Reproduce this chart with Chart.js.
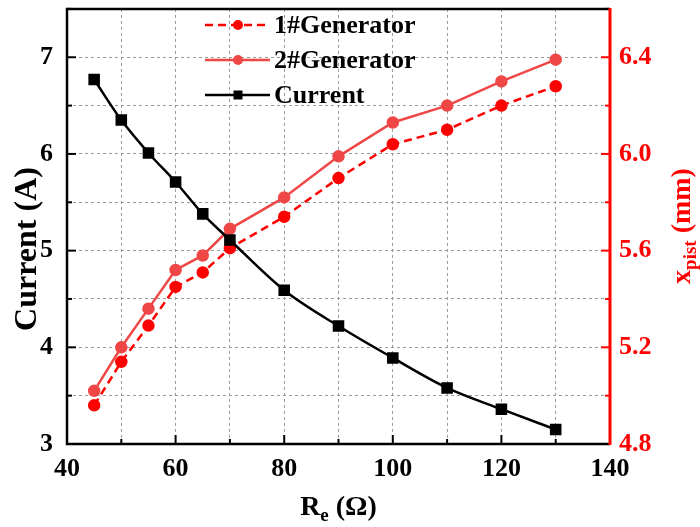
<!DOCTYPE html>
<html>
<head>
<meta charset="utf-8">
<script src="https://cdn.jsdelivr.net/npm/chart.js@4.4.1/dist/chart.umd.min.js"></script>
<style>
  html, body { margin: 0; padding: 0; background: #ffffff; }
  #wrap { width: 700px; height: 527px; }
</style>
</head>
<body>
<div id="wrap"><canvas id="c" width="700" height="527"></canvas></div>
<script>
// ---- data ----
const resistance = [45, 50, 55, 60, 65, 70, 80, 90, 100, 110, 120, 130];
const currentA   = [6.77, 6.35, 6.01, 5.71, 5.38, 5.11, 4.59, 4.22, 3.89, 3.58, 3.36, 3.15];
const gen1Pist   = [4.96, 5.14, 5.29, 5.45, 5.51, 5.61, 5.74, 5.90, 6.04, 6.10, 6.20, 6.28];
const gen2Pist   = [5.02, 5.20, 5.36, 5.52, 5.58, 5.69, 5.82, 5.99, 6.13, 6.20, 6.30, 6.39];
const xTickLabels     = ['40', '60', '80', '100', '120', '140'];
const leftTickLabels  = ['3', '4', '5', '6', '7'];
const rightTickLabels = ['4.8', '5.2', '5.6', '6.0', '6.4'];
const seriesNames = ['1#Generator', '2#Generator', 'Current'];

const RED1 = '#ff0000';
const RED2 = '#ef4646';
const BLACK = '#000000';
const FONT = '"Liberation Serif", "Times New Roman", serif';

function pts(ys) { return resistance.map((x, i) => ({ x: x, y: ys[i] })); }

const fixedWidth = (w) => (scale) => {
  scale.width = w;
  scale.paddingTop = 0; scale.paddingBottom = 0;
};

const framePlugin = {
  id: 'frame',
  afterDraw(chart) {
    const ctx = chart.ctx;
    const a = chart.chartArea;
    const sx = chart.scales.x, sl = chart.scales.yL, sr = chart.scales.yR;
    ctx.save();
    // inward ticks
    ctx.lineWidth = 2;
    ctx.strokeStyle = BLACK;
    sl.ticks.forEach(t => {
      const p = sl.getPixelForValue(t.value);
      const major = leftTickLabels.includes(String(Math.round(t.value * 10) / 10));
      const len = major ? 9 : 5;
      ctx.beginPath(); ctx.moveTo(a.left, p); ctx.lineTo(a.left + len, p); ctx.stroke();
    });
    sx.ticks.forEach(t => {
      const p = sx.getPixelForValue(t.value);
      const major = xTickLabels.includes(String(t.value));
      const len = major ? 9 : 5;
      ctx.beginPath(); ctx.moveTo(p, a.bottom); ctx.lineTo(p, a.bottom - len); ctx.stroke();
    });
    ctx.strokeStyle = RED1;
    sr.ticks.forEach(t => {
      const p = sr.getPixelForValue(t.value);
      const major = rightTickLabels.includes(t.value.toFixed(1));
      const len = major ? 9 : 5;
      ctx.beginPath(); ctx.moveTo(a.right, p); ctx.lineTo(a.right - len, p); ctx.stroke();
    });
    // frame
    ctx.lineWidth = 2.5;
    ctx.strokeStyle = BLACK;
    ctx.beginPath();
    ctx.moveTo(a.right, a.top); ctx.lineTo(a.left, a.top);
    ctx.lineTo(a.left, a.bottom); ctx.lineTo(a.right, a.bottom);
    ctx.stroke();
    ctx.lineWidth = 3;
    ctx.strokeStyle = RED1;
    ctx.beginPath(); ctx.moveTo(a.right, a.top - 1); ctx.lineTo(a.right, a.bottom + 1); ctx.stroke();

    // axis titles
    const big = 'bold 28px ' + FONT;
    const small = 'bold 19px ' + FONT;
    function drawParts(parts, x, y, color) {
      let w = 0;
      parts.forEach(p => { ctx.font = p[1]; w += ctx.measureText(p[0]).width; });
      let cx = x - w / 2;
      ctx.fillStyle = color;
      ctx.textBaseline = 'alphabetic';
      ctx.textAlign = 'left';
      parts.forEach(p => { ctx.font = p[1]; ctx.fillText(p[0], cx, y + p[2]); cx += ctx.measureText(p[0]).width; });
    }
    // bottom
    drawParts([['R', big, 0], ['e', small, 6], [' (Ω)', big, 0]], (a.left + a.right) / 2, 515, BLACK);
    // left
    ctx.save();
    ctx.translate(36, 249);
    ctx.rotate(-Math.PI / 2);
    drawParts([['Current (A)', 'bold 32px ' + FONT, 0]], 0, 0, BLACK);
    ctx.restore();
    // right
    ctx.save();
    ctx.translate(690, 226);
    ctx.rotate(-Math.PI / 2);
    drawParts([['x', big, 0], ['pist', small, 6], [' (mm)', big, 0]], 0, 0, RED1);
    ctx.restore();

    // legend
    const rows = [
      { name: seriesNames[0], color: RED1, dash: [8, 5], shape: 'circle' },
      { name: seriesNames[1], color: RED2, dash: [], shape: 'circle' },
      { name: seriesNames[2], color: BLACK, dash: [], shape: 'square' }
    ];
    const lx0 = 205, lx1 = 270, mx = 238, tx = 274;
    rows.forEach((r, i) => {
      const y = 25 + i * 35;
      ctx.strokeStyle = r.color;
      ctx.lineWidth = 2.5;
      ctx.setLineDash(r.dash);
      ctx.beginPath(); ctx.moveTo(lx0, y); ctx.lineTo(lx1, y); ctx.stroke();
      ctx.setLineDash([]);
      ctx.fillStyle = r.color;
      if (r.shape === 'circle') {
        ctx.beginPath(); ctx.arc(mx, y, 5, 0, Math.PI * 2); ctx.fill();
      } else {
        ctx.fillRect(mx - 4.5, y - 4.5, 9, 9);
      }
      ctx.fillStyle = BLACK;
      ctx.font = 'bold 26px ' + FONT;
      ctx.textAlign = 'left';
      ctx.textBaseline = 'middle';
      ctx.fillText(r.name, tx, y + 1);
    });
    ctx.restore();
  }
};

const chart = new Chart(document.getElementById('c'), {
  type: 'line',
  data: {
    datasets: [
      {
        label: seriesNames[2], data: pts(currentA), yAxisID: 'yL', order: 0,
        borderColor: BLACK, backgroundColor: BLACK, borderWidth: 2.5,
        pointStyle: 'rect', pointRadius: 6.4, pointHoverRadius: 6.4,
        cubicInterpolationMode: 'monotone'
      },
      {
        label: seriesNames[1], data: pts(gen2Pist), yAxisID: 'yR', order: 1,
        borderColor: RED2, backgroundColor: RED2, borderWidth: 2.5,
        pointStyle: 'circle', pointRadius: 5, pointHoverRadius: 5, tension: 0
      },
      {
        label: seriesNames[0], data: pts(gen1Pist), yAxisID: 'yR', order: 2,
        borderColor: RED1, backgroundColor: RED1, borderWidth: 2.5, borderDash: [8, 5],
        pointStyle: 'circle', pointRadius: 5, pointHoverRadius: 5, tension: 0
      }
    ]
  },
  options: {
    responsive: false,
    animation: false,
    devicePixelRatio: 1,
    layout: { padding: { top: 6, left: 0, right: 0, bottom: 0 } },
    plugins: { legend: { display: false }, tooltip: { enabled: false } },
    scales: {
      x: {
        type: 'linear', min: 40, max: 140,
        afterFit: (s) => { s.height = 83; s.paddingLeft = 0; s.paddingRight = 0; },
        ticks: {
          stepSize: 10, autoSkip: false, maxRotation: 0, padding: 10,
          color: BLACK, font: { family: FONT, size: 26, weight: 'bold' },
          callback: (v) => xTickLabels.includes(String(v)) ? String(v) : ''
        },
        grid: { drawTicks: false, color: '#9a9a9a', lineWidth: 1 },
        border: { display: false, dash: [3, 3] }
      },
      yL: {
        type: 'linear', position: 'left', min: 3, max: 7.5,
        afterFit: fixedWidth(67),
        ticks: {
          stepSize: 0.5, autoSkip: false, padding: 14,
          color: BLACK, font: { family: FONT, size: 26, weight: 'bold' },
          callback: (v) => { const s = String(Math.round(v * 10) / 10); return leftTickLabels.includes(s) ? s : ''; }
        },
        grid: { drawTicks: false, color: '#9a9a9a', lineWidth: 1 },
        border: { display: false, dash: [3, 3] }
      },
      yR: {
        type: 'linear', position: 'right', min: 4.8, max: 6.6,
        afterFit: fixedWidth(90),
        ticks: {
          stepSize: 0.2, autoSkip: false, padding: 9,
          color: RED1, font: { family: FONT, size: 26, weight: 'bold' },
          callback: (v) => { const s = v.toFixed(1); return rightTickLabels.includes(s) ? s : ''; }
        },
        grid: { drawTicks: false, drawOnChartArea: false },
        border: { display: false }
      }
    }
  },
  plugins: [framePlugin]
});
</script>
</body>
</html>
